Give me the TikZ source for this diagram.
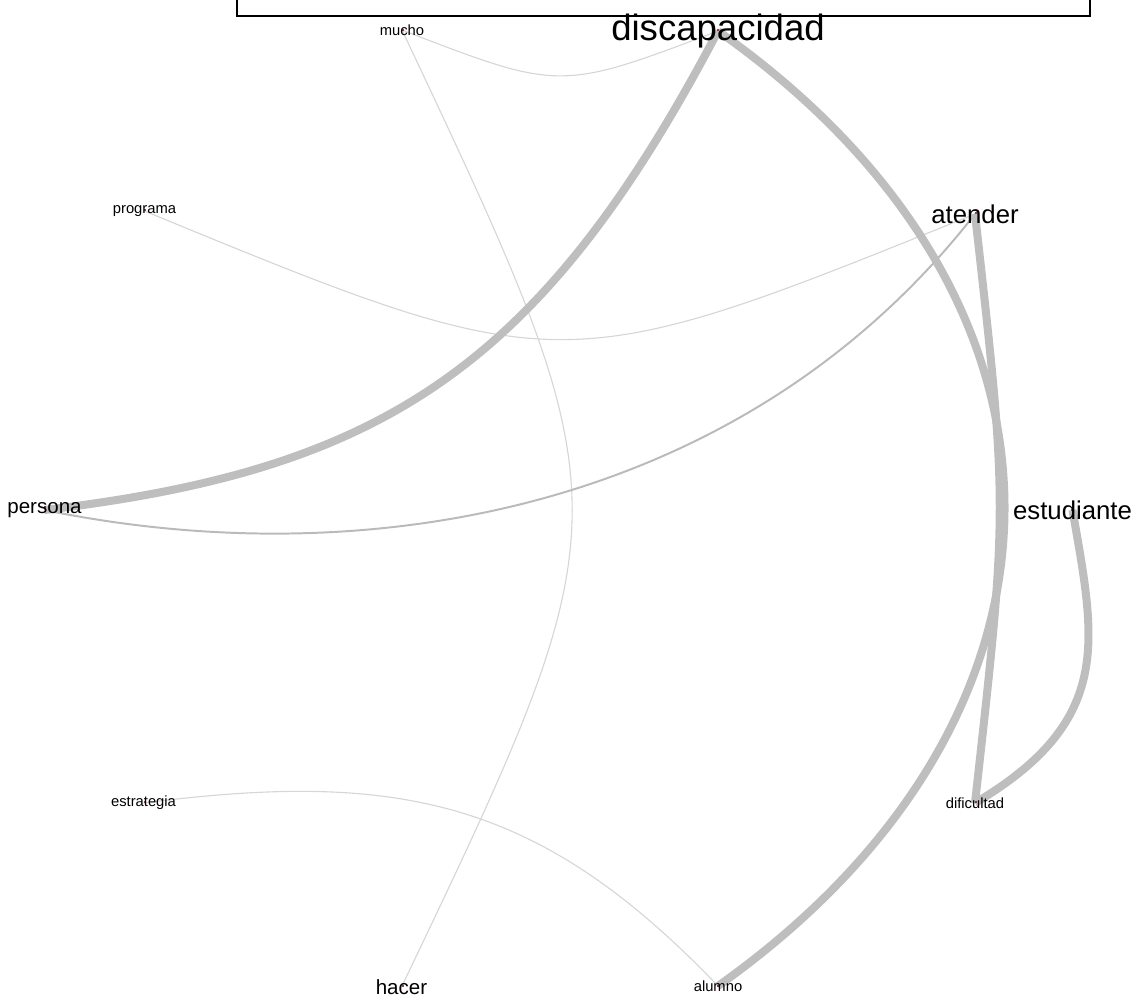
\documentclass[tikz,border=0pt]{standalone}
\usepackage{fontspec}
\setmainfont{Liberation Sans}
\usetikzlibrary{backgrounds}
\definecolor{strongedge}{RGB}{190,190,190}
\definecolor{midedge}{RGB}{186,186,186}
\definecolor{weakedge}{RGB}{214,214,214}
\definecolor{vertexdot}{RGB}{120,0,0}

\begin{document}
\begin{tikzpicture}[
    x=0.025cm, y=-0.025cm,
    word/.style={inner sep=0pt, text=black, font=\fontsize{#1}{#1}\selectfont},
    strong/.style={draw=strongedge, line width=5.7pt},
    medium/.style={draw=midedge, line width=1.4pt},
    weak/.style={draw=weakedge, line width=0.8pt},
    vdot/.style={fill=vertexdot, circle, inner sep=0pt, minimum size=1.6pt}
]
\useasboundingbox (0,0) rectangle (1138,998);

% Vertex dots
\foreach \px/\py in {718/30, 976/213, 976/802, 718/986, 145/210, 145/802, 403/30, 1072/510, 45/507, 403/986}
    \node[vdot] at (\px,\py) {};

% Words
\node[word=26] (discapacidad) at (718,31) {discapacidad};
\node[word=18.3] (atender) at (975,214) {atender};
\node[word=18.3] (estudiante) at (1072.5,510) {estudiante};
\node[word=14.6] (persona) at (44.5,510) {persona};
\node[word=14.6] (hacer) at (401.5,987) {hacer};
\node[word=10.5] (mucho) at (402,30) {mucho};
\node[word=10.5] (programa) at (144.5,211) {programa};
\node[word=10.5] (estrategia) at (143.5,803) {estrategia};
\node[word=10.5] (dificultad) at (975,803) {dificultad};
\node[word=10.5] (alumno) at (718,986) {alumno};

% Top frame
\draw[black, line width=0.9pt] (237,0) -- (237,16) -- (1090,16) -- (1090,0);

\begin{pgfonlayer}{background}
% Links
\draw[weak] (mucho.center) .. controls (560,91) .. (discapacidad.center);
\draw[weak] (mucho.center) .. controls (629,511) .. (hacer.center);
\draw[weak] (programa.center) .. controls (560,382) .. (atender.center);
\draw[weak] (estrategia.center) .. controls (400,770) and (540,800) .. (alumno.center);
\draw[medium] (persona.center) .. controls (360,575) and (740,515) .. (atender.center);
\draw[strong] (persona.center) .. controls (380,470) and (540,370) .. (discapacidad.center);
\draw[strong] (discapacidad.center) .. controls (1100,300) and (1100,715) .. (alumno.center);
\draw[strong] (atender.center) .. controls (1008,507) .. (dificultad.center);
\draw[strong] (estudiante.center) .. controls (1095,640) and (1115,720) .. (dificultad.center);
\end{pgfonlayer}

\end{tikzpicture}
\end{document}
